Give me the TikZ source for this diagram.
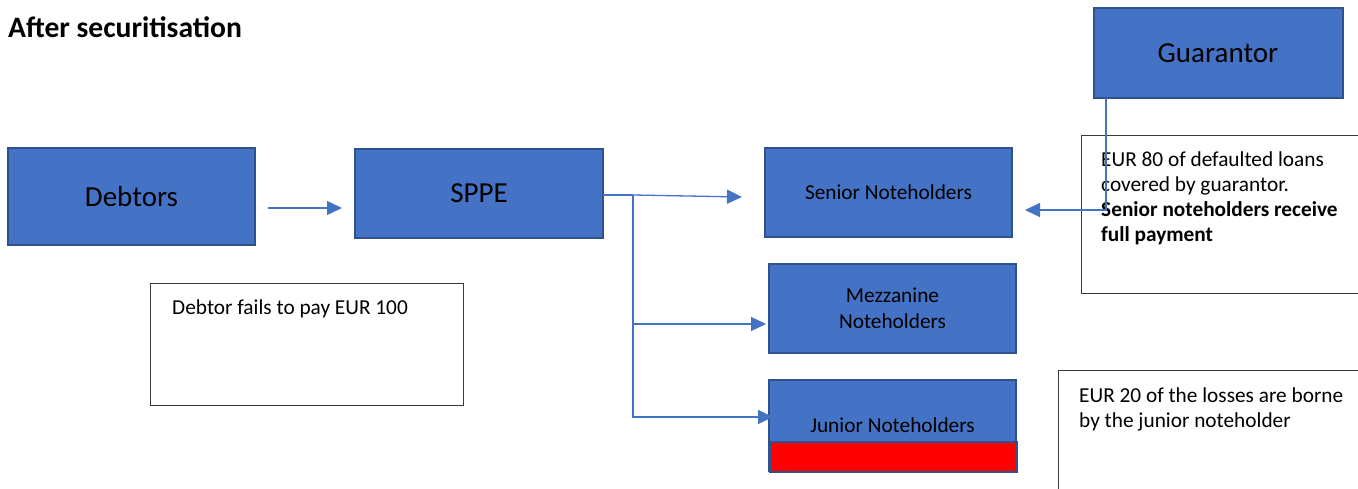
\documentclass[tikz,border=0pt]{standalone}
\usepackage{fontspec}
\setmainfont{Carlito}
\usetikzlibrary{arrows.meta}
\definecolor{boxblue}{HTML}{4472C4}
\definecolor{boxedge}{HTML}{2F528F}
\definecolor{noteedge}{HTML}{3A3A3A}
\tikzset{
  bluebox/.style={draw=boxedge, fill=boxblue, line width=2pt, inner sep=0pt, align=center, text=black},
  bigtext/.style={font=\fontsize{29}{34}\selectfont},
  smalltext/.style={font=\fontsize{21.3}{25.5}\selectfont},
  redbar/.style={draw=boxedge, fill=red, line width=2pt, inner sep=0pt},
  notebox/.style={draw=noteedge, line width=1.2pt, inner sep=0pt, anchor=north west},
  notetext/.style={inner sep=0pt, anchor=base west, align=left, font=\fontsize{21.3}{25}\selectfont},
  link/.style={draw=boxblue, line width=1.3pt, -{Triangle[length=15pt,width=14pt]}},
  plainlink/.style={draw=boxblue, line width=1.3pt},
}
\begin{document}
\begin{tikzpicture}[x=1pt,y=-1pt]
\useasboundingbox (0,0) rectangle (1358,489);
\begin{scope}
\clip (0,0) rectangle (1358,489);
% title
\node[inner sep=0pt, anchor=base west, font=\fontsize{29.6}{34}\selectfont\bfseries] (title) at (8,38) {After securitisation};
% boxes
\node[bluebox, bigtext, minimum width=247pt, minimum height=97pt] (debtors) at (131.5,196.5) {Debtors};
\node[bluebox, bigtext, minimum width=248pt, minimum height=89pt] (sppe) at (479,193.5) {SPPE};
\node[bluebox, bigtext, minimum width=249pt, minimum height=90pt] (guarantor) at (1218,53) {Guarantor};
\node[bluebox, smalltext, minimum width=247pt, minimum height=89pt] (senior) at (888.5,192.5) {Senior Noteholders};
\node[bluebox, smalltext, minimum width=247pt, minimum height=89pt] (mezz) at (892.5,308.5) {Mezzanine\\Noteholders};
\node[bluebox, smalltext, minimum width=247pt, minimum height=91pt] (junior) at (892.5,425.5) {Junior Noteholders};
\node[redbar, minimum width=247pt, minimum height=30pt, anchor=north west] (loss) at (769,441) {};
% note boxes
\node[notebox, minimum width=300pt, minimum height=158pt] (note1) at (1081,135) {};
\node[notetext] (note1t) at (1101,241.5) {EUR 80 of defaulted loans\\covered by guarantor.\\\textbf{Senior noteholders receive}\\\textbf{full payment}};
\node[notebox, minimum width=313pt, minimum height=122pt] (note2) at (150,283) {};
\node[notetext] (note2t) at (172,314) {Debtor fails to pay EUR 100};
\node[notebox, minimum width=320pt, minimum height=140pt] (note3) at (1058,370) {};
\node[notetext] (note3t) at (1079,427) {EUR 20 of the losses are borne\\by the junior noteholder};
% connectors
\coordinate (d0) at (268,208);
\coordinate (d1) at (342,208);
\draw[link] (d0) -- (d1);
\coordinate (s0) at (603,195);
\coordinate (split) at (633,195);
\coordinate (senin) at (742,197);
\coordinate (mezzin) at (766,324);
\coordinate (junin) at (773,417);
\draw[plainlink] (s0) -- (split);
\draw[link] (split) -- (senin);
\draw[link] (split) |- (mezzin);
\draw[link] (split) |- (junin);
\coordinate (g0) at (1106,98);
\coordinate (gin) at (1025,210);
\draw[link] (g0) |- (gin);
\end{scope}
\end{tikzpicture}
\end{document}
